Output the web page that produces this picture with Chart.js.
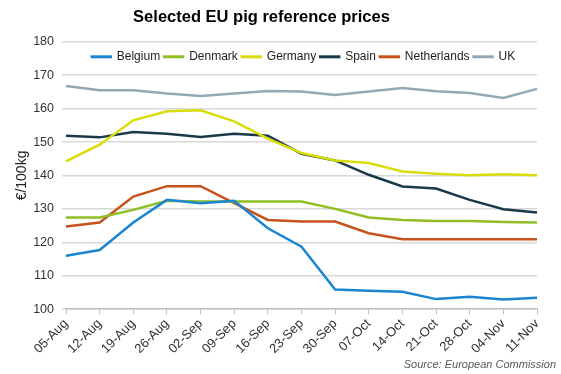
<!DOCTYPE html>
<html lang="en">
<head>
    <meta charset="UTF-8">
    <title>Selected EU pig reference prices</title>
    <script src="https://cdn.jsdelivr.net/npm/chart.js@4.4.1/dist/chart.umd.min.js"></script>
    <style>
        body {
            margin: 0;
            background: #fff;
        }
        .chart-container {
            position: relative;
            width: 561px;
            height: 374px;
        }
    </style>
</head>
<body>
    <div class="chart-container">
        <canvas id="priceChart"></canvas>
    </div>

    <script>
        // Weekly dates
        const weeks = ['05-Aug', '12-Aug', '19-Aug', '26-Aug', '02-Sep', '09-Sep', '16-Sep', '23-Sep',
                       '30-Sep', '07-Oct', '14-Oct', '21-Oct', '28-Oct', '04-Nov', '11-Nov'];

        // Prices in EUR/100kg
        const belgium     = [116.0, 117.7, 125.9, 132.7, 131.7, 132.4, 124.2, 118.7, 105.9, 105.5, 105.2, 103.0, 103.7, 102.9, 103.4];
        const denmark     = [127.4, 127.4, 129.7, 132.4, 132.2, 132.2, 132.2, 132.2, 130.0, 127.4, 126.7, 126.4, 126.4, 126.1, 125.9];
        const germany     = [144.2, 149.2, 156.5, 159.2, 159.5, 156.2, 151.0, 146.7, 144.5, 143.7, 141.2, 140.5, 140.1, 140.4, 140.1];
        const spain       = [151.9, 151.4, 153.0, 152.5, 151.5, 152.5, 151.9, 146.5, 144.5, 140.2, 136.7, 136.1, 132.7, 129.9, 128.9];
        const netherlands = [124.7, 125.9, 133.7, 136.8, 136.8, 131.7, 126.7, 126.2, 126.2, 122.7, 120.9, 120.9, 120.9, 120.9, 120.9];
        const uk          = [166.8, 165.5, 165.5, 164.5, 163.8, 164.5, 165.3, 165.1, 164.1, 165.1, 166.2, 165.2, 164.7, 163.2, 165.9];

        const seriesColors = {
            'Belgium': '#1a86d2',
            'Denmark': '#8fbe25',
            'Germany': '#d8dd0a',
            'Spain': '#183a48',
            'Netherlands': '#c7531c',
            'UK': '#92a9b5'
        };

        function makeSet(label, data) {
            return {
                label: label,
                data: data,
                borderColor: seriesColors[label],
                backgroundColor: seriesColors[label],
                borderWidth: 2.5,
                pointRadius: 0,
                tension: 0
            };
        }

        // shift a block's drawing by dx, dy without touching the layout
        function nudge(block, dx, dy) {
            const origDraw = block.draw;
            block.draw = function () {
                this.ctx.save();
                this.ctx.translate(dx, dy);
                origDraw.call(this);
                this.ctx.restore();
            };
        }

        // Legend takes no room of its own, so it sits over the top of the plot;
        // legend, title and source line are nudged to where the original has them
        const nudgeBlocks = {
            id: 'nudgeBlocks',
            beforeInit(chart) {
                const legend = chart.legend;
                const origFit = legend.fit;
                legend.fit = function () {
                    origFit.call(this);
                    this.height = 0;
                };
                legend.draw = function () {
                    if (this.options.display) {
                        this.ctx.save();
                        this.ctx.translate(35, 5);
                        this._draw();
                        this.ctx.restore();
                    }
                };
                nudge(chart.titleBlock, -7, 0);
                const sub = chart.boxes.find(b => b !== chart.titleBlock && b.options && b.options.text === 'Source: European Commission');
                if (sub) nudge(sub, 19, 0);
            }
        };

        const fontFamily = "'Liberation Sans', Arial, sans-serif";
        const ctx = document.getElementById('priceChart').getContext('2d');

        new Chart(ctx, {
            type: 'line',
            data: {
                labels: weeks,
                datasets: [
                    makeSet('Belgium', belgium),
                    makeSet('Denmark', denmark),
                    makeSet('Germany', germany),
                    makeSet('Spain', spain),
                    makeSet('Netherlands', netherlands),
                    makeSet('UK', uk)
                ]
            },
            plugins: [nudgeBlocks],
            options: {
                responsive: true,
                maintainAspectRatio: false,
                animation: false,
                layout: {
                    padding: { left: 0, right: 24, top: 0, bottom: 0 }
                },
                scales: {
                    y: {
                        min: 100,
                        max: 180,
                        afterFit(scale) {
                            scale.width = 66;
                        },
                        ticks: {
                            stepSize: 10,
                            padding: 8,
                            color: '#333',
                            font: { family: fontFamily, size: 12.5 }
                        },
                        grid: {
                            color: '#d9d9d9',
                            lineWidth: 1.5,
                            tickLength: 4
                        },
                        border: { display: false },
                        title: {
                            display: true,
                            text: '€/100kg',
                            color: '#222',
                            padding: { top: 14, bottom: 2 },
                            font: { family: fontFamily, size: 14 }
                        }
                    },
                    x: {
                        offset: false,
                        afterFit(scale) {
                            // rotated labels have room enough; don't let them push the plot right
                            scale.paddingLeft = 20;
                        },
                        ticks: {
                            minRotation: 45,
                            maxRotation: 45,
                            autoSkip: false,
                            padding: 2,
                            color: '#333',
                            font: { family: fontFamily, size: 13 }
                        },
                        grid: {
                            drawOnChartArea: false,
                            drawTicks: true,
                            tickLength: 5,
                            color: '#bfbfbf'
                        },
                        border: { color: '#bfbfbf', width: 1.5 }
                    }
                },
                plugins: {
                    title: {
                        display: true,
                        text: 'Selected EU pig reference prices',
                        color: '#000',
                        padding: { top: 8, bottom: 14 },
                        font: { family: fontFamily, size: 16.5, weight: 'bold' }
                    },
                    subtitle: {
                        display: true,
                        position: 'bottom',
                        align: 'end',
                        text: 'Source: European Commission',
                        color: '#595959',
                        padding: { top: 0, bottom: 2 },
                        font: { family: fontFamily, size: 11, style: 'italic' }
                    },
                    legend: {
                        position: 'top',
                        align: 'center',
                        labels: {
                            boxWidth: 19,
                            boxHeight: 0.5,
                            padding: 4,
                            color: '#222',
                            font: { family: fontFamily, size: 12 }
                        }
                    },
                    tooltip: { enabled: false }
                }
            }
        });
    </script>
</body>
</html>
